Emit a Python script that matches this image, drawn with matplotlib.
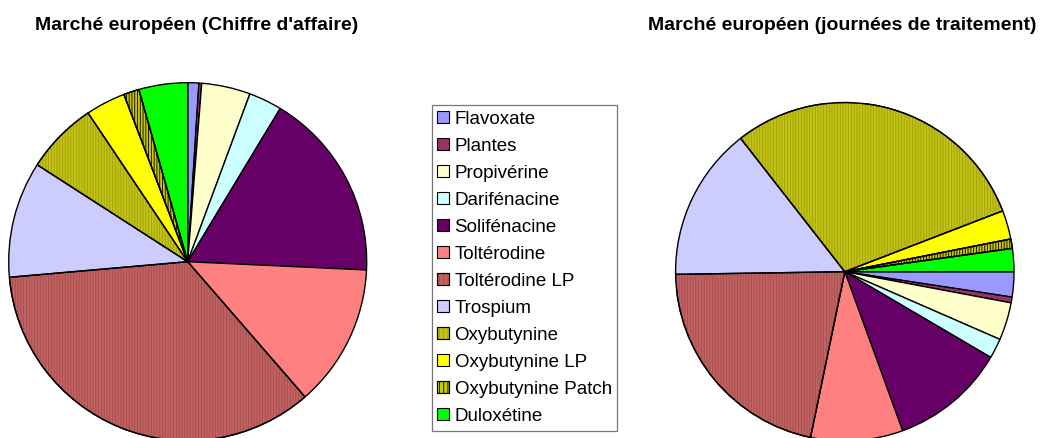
import matplotlib
matplotlib.use("Agg")
import matplotlib.pyplot as plt
import matplotlib.patches as mpatches
from matplotlib.legend_handler import HandlerTuple

plt.rcParams['font.family'] = ['Liberation Sans', 'DejaVu Sans']
plt.rcParams['hatch.linewidth'] = 0.6

categories = ["Flavoxate", "Plantes", "Propivérine", "Darifénacine", "Solifénacine",
              "Toltérodine", "Toltérodine LP", "Trospium", "Oxybutynine",
              "Oxybutynine LP", "Oxybutynine Patch", "Duloxétine"]
ca_values = [1.0, 0.25, 4.4, 3.0, 17.1, 12.9, 35.0, 10.5, 6.5, 3.6, 1.4, 4.4]
jt_values = [2.4, 0.55, 3.6, 1.9, 11.0, 8.8, 21.5, 14.7, 29.7, 2.75, 0.9, 2.2]
title_left = "Marché européen (Chiffre d'affaire)"
title_right = "Marché européen (journées de traitement)"

colors = ["#9999FF", "#993366", "#FFFFCC", "#CCFFFF", "#660066", "#FF8080",
          "#C26262", "#CCCCFF", "#C2C21A", "#FFFF00", "#C8C800", "#00FF00"]
hatches = {6: ("||||||", "#A44C4C"), 8: ("||||||", "#A0A000"), 10: ("||||||", "#000000")}

W, H = 1040, 438
fig = plt.figure(figsize=(W / 100, H / 100), dpi=100)


def add_pie(cx, cy, r, values, start):
    ax = fig.add_axes([(cx - r) / W, (H - cy - r) / H, 2 * r / W, 2 * r / H])
    wedges, _ = ax.pie(values, colors=colors, startangle=start, counterclock=False,
                       wedgeprops=dict(edgecolor="black", linewidth=1.0))
    for i, (h, hc) in hatches.items():
        w = wedges[i]
        ov = mpatches.Wedge(w.center, w.r, w.theta1, w.theta2, fill=False,
                            hatch=h, edgecolor=hc, linewidth=0)
        ax.add_patch(ov)
        edge = mpatches.Wedge(w.center, w.r, w.theta1, w.theta2, fill=False,
                              edgecolor="black", linewidth=1.0)
        ax.add_patch(edge)
    ax.set_xlim(-1, 1)
    ax.set_ylim(-1, 1)
    ax.axis("off")
    return ax


add_pie(187.7, 261.7, 179, ca_values, 90)
add_pie(844.8, 271.7, 169.2, jt_values, 0)

fig.text(197 / W, 1 - 25 / H, title_left, ha="center", va="center",
         fontsize=14, fontweight="bold")
fig.text(842 / W, 1 - 25 / H, title_right, ha="center", va="center",
         fontsize=14, fontweight="bold")

handles = []
for i, c in enumerate(colors):
    base = mpatches.Patch(facecolor=c, edgecolor="black", linewidth=0.8)
    if i in hatches:
        h, hc = hatches[i]
        ov = mpatches.Patch(facecolor="none", edgecolor=hc, hatch="||||", linewidth=0)
        edge = mpatches.Patch(facecolor="none", edgecolor="black", linewidth=0.8)
        handles.append((base, ov, edge))
    else:
        handles.append(base)

leg = fig.legend(handles, categories, loc="upper left",
                 bbox_to_anchor=(431.7 / W, 1 - 105 / H), borderaxespad=0,
                 fontsize=13.5, handlelength=0.62, handleheight=0.62,
                 handletextpad=0.3, labelspacing=0.535, borderpad=0.3,
                 frameon=True, fancybox=False,
                 handler_map={tuple: HandlerTuple(ndivide=1, pad=0)})
leg.get_frame().set_edgecolor("#555555")
leg.get_frame().set_linewidth(0.9)

fig.savefig("out.png", dpi=100)
